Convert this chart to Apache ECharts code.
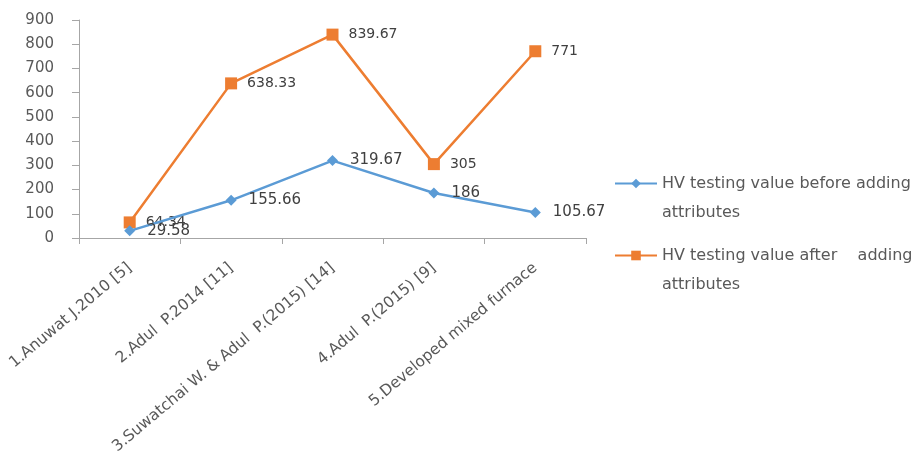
<!DOCTYPE html>
<html>
<head>
<meta charset="utf-8">
<script src="https://cdn.jsdelivr.net/npm/echarts@6/dist/echarts.min.js"></script>
<style>
  html, body { margin: 0; padding: 0; background: #ffffff; }
  #chart { width: 919px; height: 460px; }
</style>
</head>
<body>
<div id="chart"></div>
<script>
// Hardness (HV) comparison across studies
const categories = [
  '1.Anuwat J.2010 [5]',
  '2.Adul  P.2014 [11]',
  '3.Suwatchai W. & Adul  P.(2015) [14]',
  '4.Adul  P.(2015) [9]',
  '5.Developed mixed furnace'
];
const beforeValues = [29.58, 155.66, 319.67, 186, 105.67];
const afterValues = [64.34, 638.33, 839.67, 305, 771];
const seriesNames = [
  'HV testing value before adding attributes',
  'HV testing value after    adding attributes'
];
// A blank first line keeps the legend icon level with the first text line
const legendTexts = [
  ' \nHV testing value before adding\nattributes',
  ' \nHV testing value after    adding\nattributes'
];

const FONT = 'DejaVu Sans';
const BLUE = '#5B9BD5';
const ORANGE = '#ED7D31';
const AXIS = '#A6A6A6';

const chart = echarts.init(document.getElementById('chart'), null, { renderer: 'canvas' });

function legendFor(idx, top) {
  return {
    data: [seriesNames[idx]],
    left: 609,
    top: top,
    orient: 'vertical',
    itemWidth: 42,
    itemHeight: 12,
    itemGap: 0,
    formatter: () => legendTexts[idx],
    textStyle: { fontFamily: FONT, fontSize: 16, color: '#595959', lineHeight: 29 }
  };
}

chart.setOption({
  animation: false,
  backgroundColor: '#ffffff',
  grid: {
    left: 79, right: 333, top: 20, bottom: 222,
    containLabel: false,
    outerBoundsMode: 'none'
  },
  legend: [legendFor(0, 135), legendFor(1, 207)],
  xAxis: {
    type: 'category',
    data: categories,
    boundaryGap: true,
    axisLine: { lineStyle: { color: AXIS, width: 1 } },
    axisTick: { show: true, length: 6, lineStyle: { color: AXIS } },
    axisLabel: {
      rotate: 40,
      interval: 0,
      margin: 28,
      fontFamily: FONT,
      fontSize: 15.5,
      color: '#595959'
    },
    splitLine: { show: false }
  },
  yAxis: {
    type: 'value',
    min: 0,
    max: 900,
    interval: 100,
    axisLine: { show: true, lineStyle: { color: AXIS, width: 1 } },
    axisTick: { show: true, length: 7, lineStyle: { color: AXIS } },
    axisLabel: { margin: 25, fontFamily: FONT, fontSize: 15, color: '#595959' },
    splitLine: { show: false }
  },
  series: [
    {
      name: seriesNames[0],
      type: 'line',
      data: beforeValues,
      symbol: 'diamond',
      symbolSize: 11,
      itemStyle: { color: BLUE },
      lineStyle: { color: BLUE, width: 2.5 },
      label: {
        show: true,
        position: 'right',
        distance: 12,
        fontFamily: FONT,
        fontSize: 15,
        color: '#404040'
      },
      z: 3
    },
    {
      name: seriesNames[1],
      type: 'line',
      data: afterValues,
      symbol: 'rect',
      symbolSize: 12,
      itemStyle: { color: ORANGE },
      lineStyle: { color: ORANGE, width: 2.5 },
      label: {
        show: true,
        position: 'right',
        distance: 10,
        fontFamily: FONT,
        fontSize: 14,
        color: '#404040'
      },
      z: 2
    }
  ]
});
</script>
</body>
</html>
